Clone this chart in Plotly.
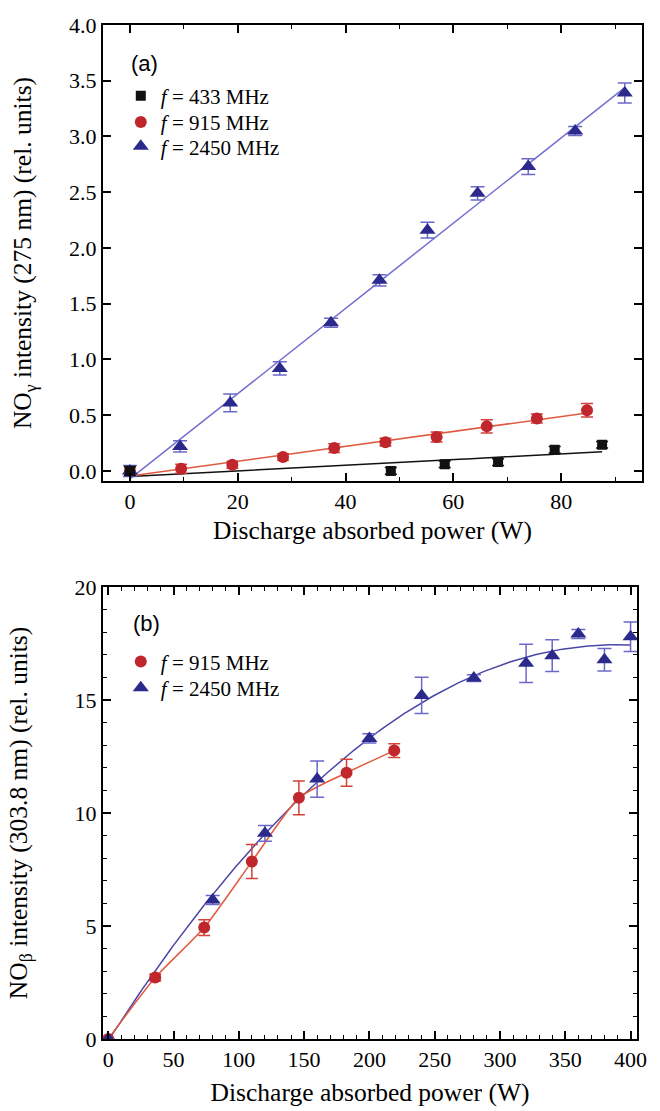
import numpy as np
import plotly.graph_objects as go

# ---------------- Panel (a): NO gamma intensity (275 nm) ----------------
power_433 = [0, 48.4, 58.4, 68.3, 78.8, 87.6]
nog_433 = [0.0, 0.0, 0.06, 0.08, 0.19, 0.235]
err_433 = [0.04, 0.03, 0.03, 0.03, 0.03, 0.03]

power_915a = [0, 9.5, 19.0, 28.4, 37.9, 47.4, 56.9, 66.2, 75.5, 84.8]
nog_915 = [0.0, 0.02, 0.055, 0.125, 0.205, 0.258, 0.305, 0.40, 0.47, 0.545]
err_915a = [0.03, 0.04, 0.03, 0.03, 0.04, 0.035, 0.045, 0.06, 0.04, 0.06]

power_2450a = [0, 9.3, 18.6, 27.8, 37.3, 46.3, 55.2, 64.5, 73.9, 82.6, 91.8]
nog_2450 = [0.0, 0.22, 0.61, 0.92, 1.33, 1.71, 2.16, 2.49, 2.73, 3.05, 3.39]
err_2450a = [0.05, 0.05, 0.08, 0.06, 0.04, 0.05, 0.07, 0.06, 0.07, 0.04, 0.09]

# ---------------- Panel (b): NO beta intensity (303.8 nm) ----------------
power_915b = [0, 36, 73.5, 110, 146, 182.5, 219]
nob_915 = [0, 2.72, 4.93, 7.85, 10.67, 11.78, 12.76]
err_915b = [0, 0.15, 0.35, 0.75, 0.75, 0.6, 0.3]

power_2450b = [0, 80, 120, 160, 200, 240, 280, 320, 340, 360, 380, 400]
nob_2450 = [0, 6.15, 9.1, 11.5, 13.3, 15.2, 15.97, 16.62, 16.96, 17.92, 16.78, 17.8]
err_2450b = [0, 0.2, 0.35, 0.8, 0.2, 0.8, 0.15, 0.85, 0.7, 0.2, 0.5, 0.65]

labels = ["<i>f</i> = 433 MHz", "<i>f</i> = 915 MHz", "<i>f</i> = 2450 MHz"]

BLACK = "#111111"
RED = "#c0272d"
RED_LINE = "#e05a40"
RED_ERR = "#d2413a"
BLUE = "#2b2a8c"
BLUE_LINE_A = "#7470cf"
BLUE_LINE_B = "#4a46a6"
BLUE_ERR = "#6b68c8"

SERIF = "Liberation Serif"


def linfit(x, y, deg=1):
    c = np.polyfit(x, y, deg)
    xs = np.linspace(min(x), max(x), 200)
    return xs, np.polyval(c, xs)


fig = go.Figure()

# fit lines, panel (a)
for x, y, col in [(power_433, nog_433, BLACK), (power_915a, nog_915, RED_LINE),
                  (power_2450a, nog_2450, BLUE_LINE_A)]:
    xs, ys = linfit(x, y, 1)
    fig.add_trace(go.Scatter(x=xs, y=ys, mode="lines", line=dict(color=col, width=1.5),
                             showlegend=False, hoverinfo="skip", xaxis="x", yaxis="y"))

# markers, panel (a)
fig.add_trace(go.Scatter(x=power_915a, y=nog_915, mode="markers", name=labels[1],
                         marker=dict(symbol="circle", size=12, color=RED),
                         error_y=dict(type="data", array=err_915a, color=RED_ERR, thickness=1.5, width=6),
                         xaxis="x", yaxis="y", legend="legend2"))
fig.add_trace(go.Scatter(x=power_2450a, y=nog_2450, mode="markers", name=labels[2],
                         marker=dict(symbol="triangle-up", size=14, color=BLUE),
                         error_y=dict(type="data", array=err_2450a, color=BLUE_ERR, thickness=1.5, width=7),
                         xaxis="x", yaxis="y", legend="legend3"))
fig.add_trace(go.Scatter(x=power_433, y=nog_433, mode="markers", name=labels[0],
                         marker=dict(symbol="square", size=10, color=BLACK),
                         error_y=dict(type="data", array=err_433, color=BLACK, thickness=1.5, width=6),
                         xaxis="x", yaxis="y", legend="legend"))

# panel (b)
xs, ys = linfit(power_2450b, nob_2450, 2)
fig.add_trace(go.Scatter(x=xs, y=ys, mode="lines", line=dict(color=BLUE_LINE_B, width=1.5),
                         showlegend=False, hoverinfo="skip", xaxis="x2", yaxis="y2"))
fig.add_trace(go.Scatter(x=power_915b, y=nob_915, mode="lines",
                         line=dict(color=RED_LINE, width=1.5, shape="spline", smoothing=0.6),
                         showlegend=False, hoverinfo="skip", xaxis="x2", yaxis="y2"))
fig.add_trace(go.Scatter(x=power_915b, y=nob_915, mode="markers", name=labels[1],
                         marker=dict(symbol="circle", size=12, color=RED),
                         error_y=dict(type="data", array=err_915b, color=RED_ERR, thickness=1.5, width=6),
                         xaxis="x2", yaxis="y2", legend="legend4"))
fig.add_trace(go.Scatter(x=power_2450b, y=nob_2450, mode="markers", name=labels[2],
                         marker=dict(symbol="triangle-up", size=14, color=BLUE),
                         error_y=dict(type="data", array=err_2450b, color=BLUE_ERR, thickness=1.5, width=7),
                         xaxis="x2", yaxis="y2", legend="legend5"))

axis_common = dict(showline=True, linecolor="black", linewidth=2, mirror="ticks",
                   ticks="inside", ticklen=8, tickwidth=1.5, tickcolor="black",
                   showgrid=False, zeroline=False,
                   tickfont=dict(family=SERIF, size=22, color="black"))
title_font = dict(family=SERIF, size=25.5, color="black")


def minor(d):
    return dict(ticks="inside", ticklen=4, tickwidth=1.2, tickcolor="black", dtick=d, showgrid=False)


def leg(x, y):
    return dict(x=x, y=y, xanchor="left", yanchor="middle", bgcolor="rgba(0,0,0,0)",
                font=dict(family=SERIF, size=21, color="black"), itemwidth=30)


fig.update_layout(
    width=660, height=1111,
    margin=dict(l=103, r=8, t=25, b=72),
    paper_bgcolor="white", plot_bgcolor="white",
    xaxis=dict(domain=[0, 1], anchor="y", range=[-5, 95], tick0=0, dtick=20, minor=minor(10),
               title=dict(text="Discharge absorbed power (W)", font=title_font, standoff=8),
               **axis_common),
    yaxis=dict(domain=[0.5503, 1], anchor="x", range=[-0.09, 4.0], tick0=0, dtick=0.5, tickformat=".1f",
               title=dict(text="NO<sub>γ</sub> intensity (275 nm) (rel. units)", font=title_font, standoff=30),
               **axis_common),
    xaxis2=dict(domain=[0, 0.9909], anchor="y2", range=[-4, 405], tick0=0, dtick=50, minor=minor(10),
                title=dict(text="Discharge absorbed power (W)", font=title_font, standoff=12),
                **axis_common),
    yaxis2=dict(domain=[0, 0.4458], anchor="x2", range=[0, 20], tick0=0, dtick=5, minor=minor(1),
                title=dict(text="NO<sub>β</sub> intensity (303.8 nm) (rel. units)", font=title_font, standoff=40),
                **axis_common),
    legend=leg(0.033, 0.930),
    legend2=leg(0.033, 0.904),
    legend3=leg(0.033, 0.880),
    legend4=leg(0.033, 0.372),
    legend5=leg(0.033, 0.346),
    annotations=[
        dict(text="(a)", x=0.0765, y=0.9625, xref="paper", yref="paper", showarrow=False,
             xanchor="center", yanchor="middle",
             font=dict(family="Liberation Sans", size=22, color="black")),
        dict(text="(b)", x=0.080, y=0.410, xref="paper", yref="paper", showarrow=False,
             xanchor="center", yanchor="middle",
             font=dict(family="Liberation Sans", size=22, color="black")),
    ],
)

fig.write_html("out.html")
